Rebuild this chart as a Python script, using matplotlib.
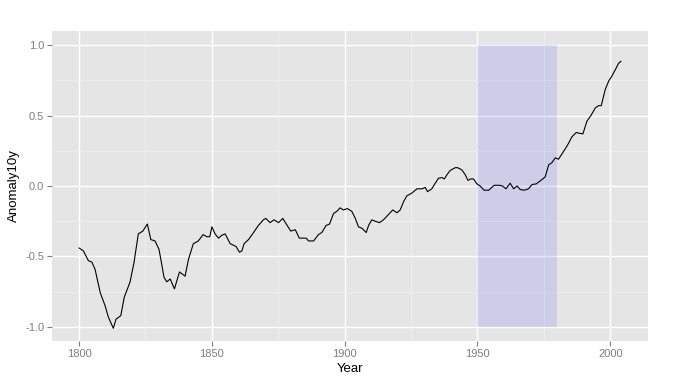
import numpy as np
import matplotlib.pyplot as plt
from matplotlib.ticker import MultipleLocator

plt.rcParams['font.family'] = ['Liberation Sans', 'DejaVu Sans']

# values (year, 10-year anomaly)
years = [1800, 1801.6, 1803.5, 1804.8, 1806, 1808, 1809.8, 1811, 1812.9, 1813.9,
         1815.7, 1817, 1819.2, 1820.7, 1822.3, 1824, 1825.7, 1827, 1828.6, 1830.1,
         1832, 1833, 1834.3, 1835.9, 1837.8, 1839.9, 1841.2, 1843, 1844.9, 1846.7,
         1848.1, 1849.2, 1850, 1851.2, 1852.5, 1853.7, 1855, 1856.9, 1858.1, 1859.1,
         1860.4, 1861.3, 1862.1, 1863.8, 1865.7, 1867.5, 1869.4, 1870.3, 1871.9, 1873.4,
         1875.1, 1876.7, 1878, 1879.7, 1881.4, 1882.9, 1884.5, 1885.5, 1886.4, 1888.3,
         1890.1, 1891.4, 1893, 1894.3, 1895.8, 1897, 1898.3, 1899.5, 1901, 1902.7,
         1904, 1905.2, 1906.5, 1908.1, 1909, 1910.2, 1911.5, 1913.1, 1914.6, 1916.1,
         1918.1, 1919.7, 1920.9, 1922.2, 1923.4, 1925.3, 1927.2, 1929.1, 1930.3, 1931.2,
         1932.8, 1934.1, 1935.3, 1936.6, 1937.5, 1938.5, 1939.7, 1941.6, 1942.5, 1944.1,
         1945.4, 1946.4, 1947.5, 1948.5, 1949.8, 1951, 1952.5, 1954.2, 1956.3, 1958.3,
         1959.4, 1960.7, 1962.3, 1963.6, 1964.9, 1966.1, 1967.6, 1969.2, 1970.5, 1972.1,
         1973.9, 1975.5, 1976.8, 1978, 1979.3, 1980.5, 1982.4, 1983.9, 1985.6, 1987.2,
         1988.1, 1989.7, 1991.2, 1992.7, 1994.4, 1995.6, 1996.6, 1998.1, 1999.4, 2000.6,
         2002.3, 2003.1, 2004]
anomaly = [-0.44, -0.46, -0.53, -0.54, -0.59, -0.76, -0.85, -0.93, -1.01, -0.945,
           -0.92, -0.79, -0.68, -0.54, -0.34, -0.32, -0.27, -0.38, -0.39, -0.45,
           -0.65, -0.68, -0.66, -0.73, -0.61, -0.64, -0.52, -0.41, -0.39, -0.345,
           -0.36, -0.36, -0.29, -0.34, -0.37, -0.35, -0.34, -0.41, -0.42, -0.43,
           -0.47, -0.46, -0.41, -0.38, -0.33, -0.28, -0.24, -0.23, -0.26, -0.24,
           -0.26, -0.23, -0.27, -0.32, -0.31, -0.37, -0.37, -0.37, -0.39, -0.39,
           -0.345, -0.33, -0.28, -0.27, -0.195, -0.18, -0.155, -0.17, -0.16, -0.18,
           -0.23, -0.29, -0.30, -0.33, -0.28, -0.24, -0.25, -0.26, -0.24, -0.21,
           -0.17, -0.19, -0.17, -0.11, -0.07, -0.05, -0.02, -0.02, -0.01, -0.04,
           -0.02, 0.02, 0.055, 0.06, 0.05, 0.08, 0.11, 0.13, 0.13, 0.115,
           0.08, 0.04, 0.05, 0.05, 0.015, 0.0, -0.03, -0.03, 0.005, 0.005,
           0.0, -0.02, 0.02, -0.02, 0.0, -0.025, -0.03, -0.02, 0.01, 0.015,
           0.04, 0.065, 0.15, 0.165, 0.2, 0.19, 0.245, 0.29, 0.35, 0.38,
           0.375, 0.37, 0.46, 0.5, 0.555, 0.57, 0.57, 0.685, 0.745, 0.78,
           0.84, 0.87, 0.885]

# shaded period
rect_x = [1950, 1980]
rect_y = [-1, 1]

fig = plt.figure(figsize=(6.77, 3.83), dpi=100)
ax = fig.add_axes([52/677, 1 - 341/383, 596/677, 310/383])
ax.set_facecolor('#E5E5E5')

ax.xaxis.set_major_locator(MultipleLocator(50))
ax.xaxis.set_minor_locator(MultipleLocator(25))
ax.yaxis.set_major_locator(MultipleLocator(0.5))
ax.yaxis.set_minor_locator(MultipleLocator(0.25))
ax.grid(which='major', color='white', linewidth=1.0)
ax.grid(which='minor', color='#F2F2F2', linewidth=0.5)
ax.set_axisbelow(True)

ax.fill_between(rect_x, rect_y[0], rect_y[1], color='blue', alpha=0.1, linewidth=0)
ax.plot(years, anomaly, color='black', linewidth=0.8)

xr = max(years) - min(years)
ax.set_xlim(min(years) - 0.05 * xr, max(years) + 0.05 * xr)
ax.set_ylim(-1.1, 1.1)

for s in ax.spines.values():
    s.set_visible(False)
ax.tick_params(which='major', length=3.5, width=0.8, color='#7F7F7F',
               labelcolor='#7F7F7F', labelsize=8, pad=2)
ax.tick_params(which='minor', length=0)
ax.set_yticks([-1, -0.5, 0, 0.5, 1])
ax.set_yticklabels(['-1.0', '-0.5', '0.0', '0.5', '1.0'])

ax.set_xlabel('Year', fontsize=9.5, labelpad=3)
ax.set_ylabel('Anomaly10y', fontsize=9.5, labelpad=4)

fig.savefig('out.png', dpi=100)
